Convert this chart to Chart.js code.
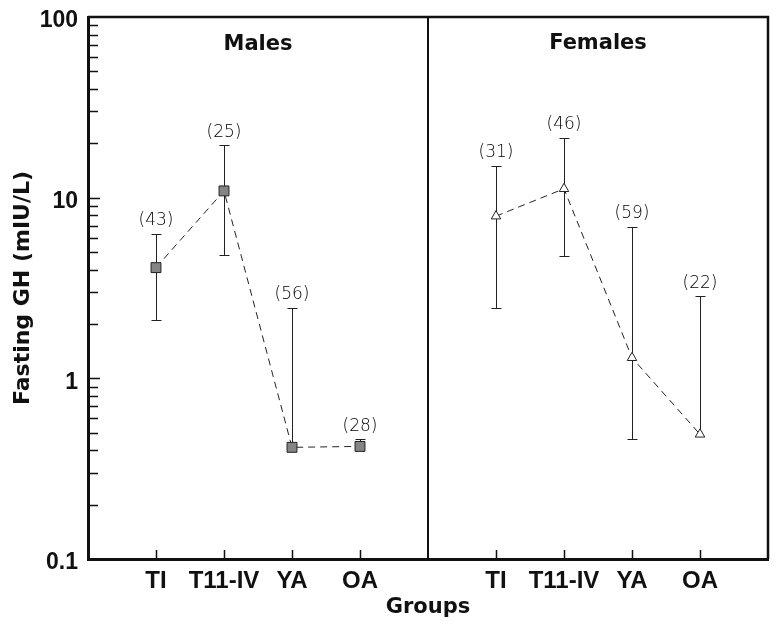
<!DOCTYPE html>
<html>
<head>
<meta charset="utf-8">
<script src="https://cdn.jsdelivr.net/npm/chart.js@4"></script>
<style>
  html, body { margin: 0; padding: 0; background: #fff; }
</style>
</head>
<body>
<canvas id="gh-chart" width="776" height="628"></canvas>
<script>
// groups on the x axis, males on the left panel, females on the right
const groups = ["TI", "T11-IV", "YA", "OA"];
const malePos = [1, 2, 3, 4];
const femalePos = [6, 7, 8, 9];
const panelSplit = 5;
const panelTitles = ["Males", "Females"];

const maleMean = [4.1, 10.9, 0.415, 0.42];
const maleUpper = [6.3, 19.5, 2.45, 0.46];
const maleLower = [2.1, 4.8, null, null];
const maleN = ["(43)", "(25)", "(56)", "(28)"];

const femaleMean = [7.9, 11.2, 1.3, 0.49];
const femaleUpper = [15.0, 21.5, 6.9, 2.85];
const femaleLower = [2.45, 4.75, 0.46, null];
const femaleN = ["(31)", "(46)", "(59)", "(22)"];

const yTickValues = [0.1, 1, 10, 100];
const yTickLabels = ["0.1", "1", "10", "100"];
const yMinorValues = [0.2, 0.3, 0.4, 0.5, 0.6, 0.7, 0.8, 0.9,
                      2, 3, 4, 5, 6, 7, 8, 9,
                      20, 30, 40, 50, 60, 70, 80, 90];

const ink = "#111";
const markInk = "#222";

function toPoints(pos, vals) {
    return pos.map((p, i) => ({ x: p, y: vals[i] }));
}

/***********************************************
 * error bars, n labels, inward ticks, panel frame
 ***********************************************/
const panelPlugin = {
    id: "panels",
    beforeDatasetsDraw(chart) {
        const { ctx } = chart;
        const xs = chart.scales.x;
        const ys = chart.scales.y;
        const series = [
            [malePos, maleMean, maleUpper, maleLower],
            [femalePos, femaleMean, femaleUpper, femaleLower]
        ];
        ctx.save();
        ctx.strokeStyle = markInk;
        ctx.lineWidth = 1;
        series.forEach(([pos, mean, upper, lower]) => {
            pos.forEach((p, i) => {
                const x = Math.round(xs.getPixelForValue(p)) + 0.5;
                const top = Math.round(ys.getPixelForValue(upper[i])) + 0.5;
                const low = lower[i] != null ? lower[i] : mean[i];
                const bot = Math.round(ys.getPixelForValue(low)) + 0.5;
                ctx.beginPath();
                ctx.moveTo(x, top);
                ctx.lineTo(x, bot);
                ctx.moveTo(x - 5, top);
                ctx.lineTo(x + 5, top);
                if (lower[i] != null) {
                    ctx.moveTo(x - 5, bot);
                    ctx.lineTo(x + 5, bot);
                }
                ctx.stroke();
            });
        });
        ctx.restore();
    },
    afterDatasetsDraw(chart) {
        const { ctx, chartArea } = chart;
        const xs = chart.scales.x;
        const ys = chart.scales.y;
        ctx.save();

        // sample sizes above the bars
        ctx.fillStyle = "#000";
        ctx.font = "200 17px 'DejaVu Sans'";
        ctx.textAlign = "center";
        ctx.textBaseline = "middle";
        [[malePos, maleUpper, maleN], [femalePos, femaleUpper, femaleN]].forEach(([pos, upper, n]) => {
            pos.forEach((p, i) => {
                ctx.fillText(n[i], xs.getPixelForValue(p), ys.getPixelForValue(upper[i]) - 13);
            });
        });

        // panel titles
        ctx.fillStyle = ink;
        ctx.font = "bold 21px 'DejaVu Sans'";
        ctx.fillText(panelTitles[0], xs.getPixelForValue((malePos[0] + malePos[3]) / 2), chartArea.top + 28);
        ctx.fillText(panelTitles[1], xs.getPixelForValue((femalePos[0] + femalePos[3]) / 2), chartArea.top + 27);

        // inward ticks on the left axis
        ctx.strokeStyle = ink;
        ctx.lineWidth = 1.5;
        ctx.beginPath();
        yMinorValues.forEach(v => {
            const y = Math.round(ys.getPixelForValue(v)) + 0.5;
            ctx.moveTo(chartArea.left, y);
            ctx.lineTo(chartArea.left + 10, y);
        });
        [1, 10].forEach(v => {
            const y = Math.round(ys.getPixelForValue(v)) + 0.5;
            ctx.moveTo(chartArea.left, y);
            ctx.lineTo(chartArea.left + 12, y);
        });
        // inward ticks on the bottom axis
        malePos.concat(femalePos).forEach(p => {
            const x = Math.round(xs.getPixelForValue(p)) + 0.5;
            ctx.moveTo(x, chartArea.bottom);
            ctx.lineTo(x, chartArea.bottom - 9);
        });
        ctx.stroke();

        // frame: top, right and the panel divider
        ctx.lineWidth = 2.5;
        ctx.beginPath();
        ctx.moveTo(chartArea.left, chartArea.top);
        ctx.lineTo(chartArea.right, chartArea.top);
        ctx.lineTo(chartArea.right, chartArea.bottom);
        ctx.stroke();
        ctx.lineWidth = 2;
        const xd = Math.round(xs.getPixelForValue(panelSplit));
        ctx.beginPath();
        ctx.moveTo(xd, chartArea.top);
        ctx.lineTo(xd, chartArea.bottom);
        ctx.stroke();

        ctx.restore();
    }
};

const lineStyle = {
    showLine: true,
    borderColor: markInk,
    borderWidth: 1,
    borderDash: [7, 5],
    pointBorderColor: markInk,
    pointBorderWidth: 1,
    tension: 0
};

new Chart(document.getElementById("gh-chart"), {
    type: "scatter",
    data: {
        datasets: [
            Object.assign({}, lineStyle, {
                label: "Males",
                data: toPoints(malePos, maleMean),
                pointStyle: "rect",
                pointRadius: 7,
                pointBackgroundColor: "#858585"
            }),
            Object.assign({}, lineStyle, {
                label: "Females",
                data: toPoints(femalePos, femaleMean),
                pointStyle: "triangle",
                pointRadius: 5.5,
                pointBackgroundColor: "#fff"
            })
        ]
    },
    options: {
        responsive: false,
        animation: false,
        devicePixelRatio: 1,
        layout: { padding: { top: 17, right: 8, left: 0, bottom: 0 } },
        plugins: {
            legend: { display: false },
            tooltip: { enabled: false }
        },
        scales: {
            x: {
                type: "linear",
                min: 0,
                max: 10,
                afterBuildTicks: scale => {
                    scale.ticks = malePos.concat(femalePos).map(v => ({ value: v }));
                },
                afterFit: scale => {
                    scale.height = 69;
                    scale.paddingLeft = 0;
                    scale.paddingRight = 0;
                },
                grid: { display: false, drawTicks: false },
                border: { display: true, color: ink, width: 3 },
                ticks: {
                    autoSkip: false,
                    maxRotation: 0,
                    padding: 8,
                    color: ink,
                    font: { family: "'Liberation Sans'", weight: "bold", size: 24 },
                    callback: value => groups[(value - 1) % 5]
                },
                title: {
                    display: true,
                    text: "Groups",
                    color: ink,
                    font: { family: "'DejaVu Sans'", weight: "bold", size: 21 },
                    padding: { top: 0, bottom: 8 }
                }
            },
            y: {
                type: "logarithmic",
                min: 0.1,
                max: 100,
                afterBuildTicks: scale => {
                    scale.ticks = yTickValues.map(v => ({ value: v }));
                },
                afterFit: scale => {
                    scale.width = 88;
                    scale.paddingTop = 0;
                    scale.paddingBottom = 0;
                },
                grid: { display: false, drawTicks: false },
                border: { display: true, color: ink, width: 3 },
                ticks: {
                    padding: 10,
                    labelOffset: 4,
                    color: ink,
                    font: { family: "'Liberation Sans'", weight: "bold", size: 23 },
                    callback: value => yTickLabels[yTickValues.indexOf(value)]
                },
                title: {
                    display: true,
                    text: "Fasting GH (mIU/L)",
                    color: ink,
                    font: { family: "'DejaVu Sans'", weight: "bold", size: 22 },
                    padding: { top: 10, bottom: 0 }
                }
            }
        }
    },
    plugins: [panelPlugin]
});
</script>
</body>
</html>
